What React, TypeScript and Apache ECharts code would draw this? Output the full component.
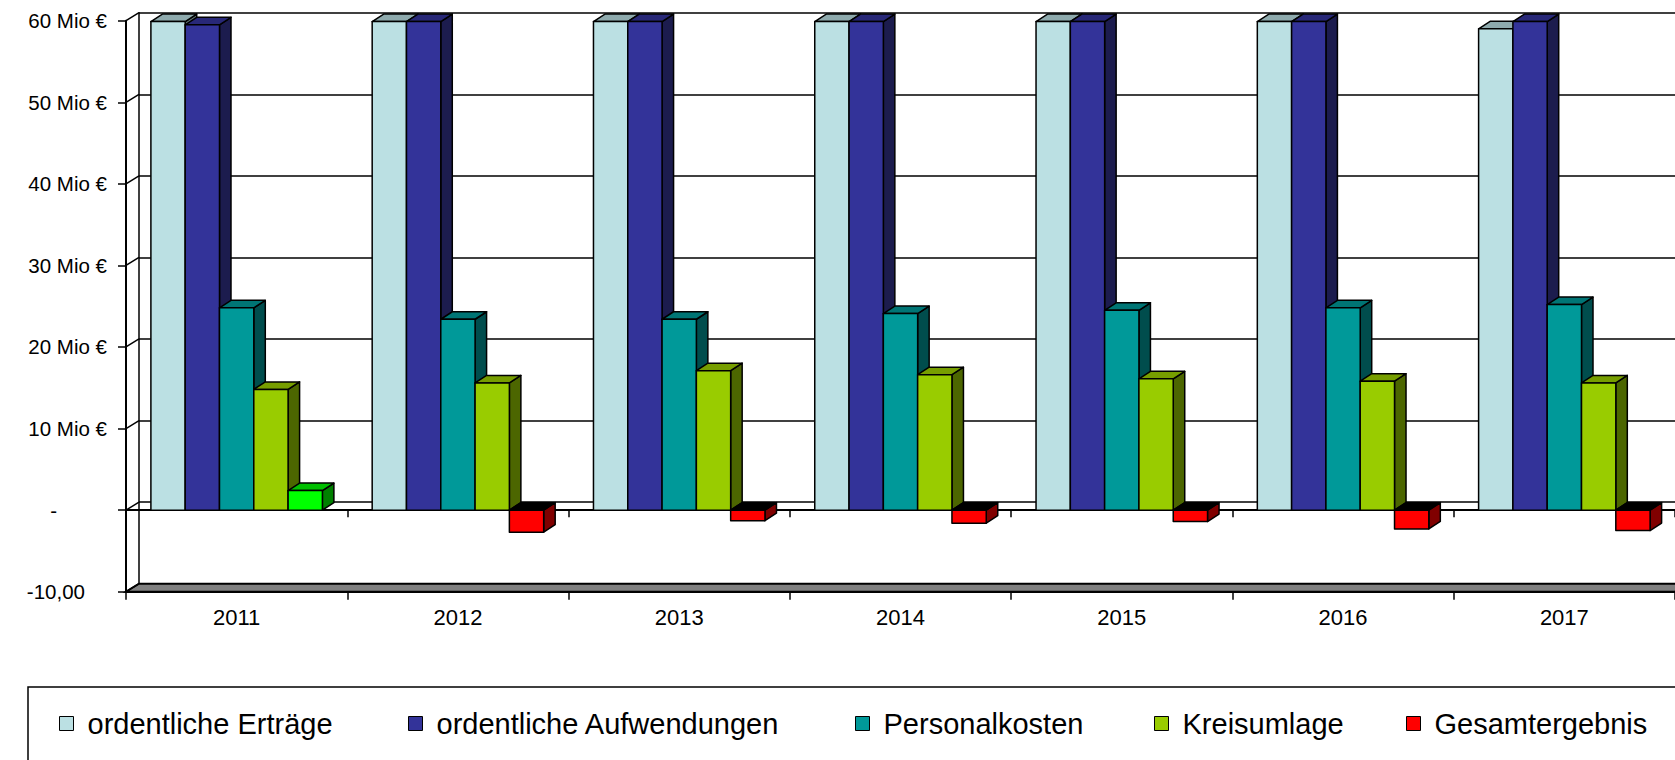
import React, { useEffect, useRef } from "react";
import * as echarts from "echarts";

// ---- data ----
const categories = ["2011", "2012", "2013", "2014", "2015", "2016", "2017"];
const ertraege = [59.9, 59.9, 59.9, 59.9, 59.9, 59.9, 59.0];
const aufwendungen = [59.5, 59.9, 59.9, 59.9, 59.9, 59.9, 59.9];
const personalkosten = [24.8, 23.4, 23.4, 24.1, 24.5, 24.8, 25.2];
const kreisumlage = [14.8, 15.6, 17.1, 16.6, 16.1, 15.8, 15.6];
const gesamtergebnis = [2.4, -2.7, -1.3, -1.6, -1.4, -2.3, -2.5];

const seriesNames = [
  "ordentliche Erträge",
  "ordentliche Aufwendungen",
  "Personalkosten",
  "Kreisumlage",
  "Gesamtergebnis",
];
const yTickValues = [-10, 0, 10, 20, 30, 40, 50, 60];
const yTickLabels = ["-10,00", "-", "10 Mio €", "20 Mio €", "30 Mio €", "40 Mio €", "50 Mio €", "60 Mio €"];

// ---- styles ----
const FONT = "'Liberation Sans', Arial, sans-serif";
const DX = 11.5; // bar depth
const DY = -7.5;
const WX = 13; // wall depth
const WY = -8;
const palette = [
  { front: "#BBE0E3", top: "#8EAAAD", side: "#5E7173" },
  { front: "#333399", top: "#282878", side: "#1C1C4E" },
  { front: "#009999", top: "#007575", side: "#004D4D" },
  { front: "#99CC00", top: "#779E00", side: "#4C6600" },
  { front: "#FF0000", top: "#000000", side: "#800000" },
];
const positiveResult = { front: "#00FF00", top: "#00C000", side: "#008000" };
const legendX = [59, 408, 855, 1154, 1406];

export default function App() {
  const ref = useRef<HTMLDivElement>(null);

  useEffect(() => {
    if (!ref.current) return;
    const chart = echarts.init(ref.current, null, { renderer: "svg" });
    const allData = [ertraege, aufwendungen, personalkosten, kreisumlage, gesamtergebnis];

    const barSeries = allData.map((vals, idx) => ({
      type: "custom",
      name: seriesNames[idx],
      xAxisIndex: 0,
      yAxisIndex: 0,
      z: 5,
      clip: false,
      silent: true,
      itemStyle: { color: palette[idx].front },
      encode: { x: 0, y: 1 },
      data: vals.map((v, i) => [i, v]),
      renderItem: (params: any, api: any) => {
        const c = api.value(0);
        const v = api.value(1);
        const base = api.coord([c, 0]);
        const tip = api.coord([c, v]);
        const band = api.size([1, 0])[0];
        const bw = band * 0.155;
        const x0 = base[0] - 2.5 * bw + idx * bw;
        const x1 = x0 + bw;
        const yTop = Math.min(base[1], tip[1]);
        const yBot = Math.max(base[1], tip[1]);
        const col = idx === 4 && v >= 0 ? positiveResult : palette[idx];
        const st = (fill: string) => ({ fill, stroke: "#000", lineWidth: 1.5, lineJoin: "round" });
        return {
          type: "group",
          children: [
            {
              type: "polygon",
              shape: { points: [[x1, yBot], [x1, yTop], [x1 + DX, yTop + DY], [x1 + DX, yBot + DY]] },
              style: st(col.side),
            },
            {
              type: "polygon",
              shape: { points: [[x0, yTop], [x1, yTop], [x1 + DX, yTop + DY], [x0 + DX, yTop + DY]] },
              style: st(col.top),
            },
            {
              type: "rect",
              shape: { x: x0, y: yTop, width: bw, height: yBot - yTop },
              style: st(col.front),
            },
          ],
        };
      },
    }));

    const floorSeries = {
      type: "custom",
      name: "floor",
      xAxisIndex: 0,
      yAxisIndex: 0,
      z: 3,
      clip: false,
      silent: true,
      data: [[0, -10]],
      encode: { x: 0, y: 1 },
      renderItem: (params: any, api: any) => {
        const cs = params.coordSys;
        const y = api.coord([0, api.value(1)])[1];
        return {
          type: "polygon",
          shape: {
            points: [
              [cs.x, y],
              [cs.x + cs.width, y],
              [cs.x + cs.width + WX, y + WY],
              [cs.x + WX, y + WY],
            ],
          },
          style: { fill: "#808080", stroke: "#000", lineWidth: 2 },
        };
      },
    };

    const sideWallSeries = {
      type: "custom",
      name: "sidewall",
      xAxisIndex: 0,
      yAxisIndex: 0,
      z: 4,
      clip: false,
      silent: true,
      data: yTickValues.map((v) => [0, v]),
      encode: { x: 0, y: 1 },
      renderItem: (params: any, api: any) => {
        const cs = params.coordSys;
        const y = api.coord([0, api.value(1)])[1];
        return {
          type: "line",
          shape: { x1: cs.x, y1: y, x2: cs.x + WX, y2: y + WY },
          style: { stroke: "#000", lineWidth: 1.5 },
        };
      },
    };

    const option: any = {
      animation: false,
      backgroundColor: "#fff",
      grid: [
        { left: 126, top: 20.7, width: 1549, height: 571, containLabel: false },
        { left: 126 + WX, top: 20.7 + WY, width: 1549, height: 571, containLabel: false },
      ],
      xAxis: [
        {
          type: "category",
          gridIndex: 0,
          data: categories,
          position: "bottom",
          axisLine: { onZero: false, lineStyle: { color: "#000", width: 2 } },
          axisTick: { show: true, length: 8, lineStyle: { color: "#000", width: 1.5 } },
          axisLabel: { margin: 15, fontSize: 22, fontFamily: FONT, color: "#000" },
        },
        {
          type: "category",
          gridIndex: 0,
          data: categories,
          position: "bottom",
          axisLine: { onZero: true, lineStyle: { color: "#000", width: 2 } },
          axisTick: { show: true, length: 7, lineStyle: { color: "#000", width: 1.5 } },
          axisLabel: { show: false },
        },
        {
          type: "category",
          gridIndex: 1,
          data: categories,
          show: false,
        },
      ],
      yAxis: [
        {
          type: "value",
          gridIndex: 0,
          min: -10,
          max: 60,
          interval: 10,
          axisLine: { show: true, lineStyle: { color: "#000", width: 2 } },
          axisTick: { show: true, length: 8, lineStyle: { color: "#000", width: 1.5 } },
          splitLine: { show: false },
          axisLabel: {
            margin: 19,
            fontSize: 20.5,
            fontFamily: FONT,
            color: "#000",
            formatter: (v: number) => {
              const i = yTickValues.indexOf(v);
              const t = i >= 0 ? yTickLabels[i] : String(v);
              if (v === 0) return "{d|" + t + "}";
              if (v === -10) return "{n|" + t + "}";
              return t;
            },
            rich: {
              d: { fontSize: 20.5, fontFamily: FONT, color: "#000", padding: [0, 50, 0, 0] },
              n: { fontSize: 20.5, fontFamily: FONT, color: "#000", padding: [0, 22, 0, 0] },
            },
          },
        },
        {
          type: "value",
          gridIndex: 1,
          min: -10,
          max: 60,
          interval: 10,
          axisLine: { show: true, lineStyle: { color: "#000", width: 1.5 } },
          axisTick: { show: false },
          axisLabel: { show: false },
          splitLine: { show: true, lineStyle: { color: "#000", width: 1.5 } },
        },
      ],
      legend: seriesNames.map((n, i) => ({
        data: [n],
        left: legendX[i],
        top: 709,
        padding: 0,
        orient: "horizontal",
        itemWidth: 14,
        itemHeight: 14,
        icon: "rect",
        selectedMode: false,
        itemStyle: { borderColor: "#000", borderWidth: 1 },
        textStyle: { fontSize: 29, fontFamily: FONT, color: "#000", padding: [0, 0, 0, 9] },
      })),
      graphic: [
        {
          type: "rect",
          shape: { x: 28, y: 687, width: 1700, height: 120 },
          style: { fill: "none", stroke: "#000", lineWidth: 1.5 },
          silent: true,
        },
      ],
      series: [floorSeries, sideWallSeries, ...barSeries],
    };

    chart.setOption(option);
    return () => chart.dispose();
  }, []);

  return (
    <div
      ref={ref}
      style={{ position: "absolute", left: 0, top: 0, width: 1675, height: 760, background: "#fff" }}
    />
  );
}
